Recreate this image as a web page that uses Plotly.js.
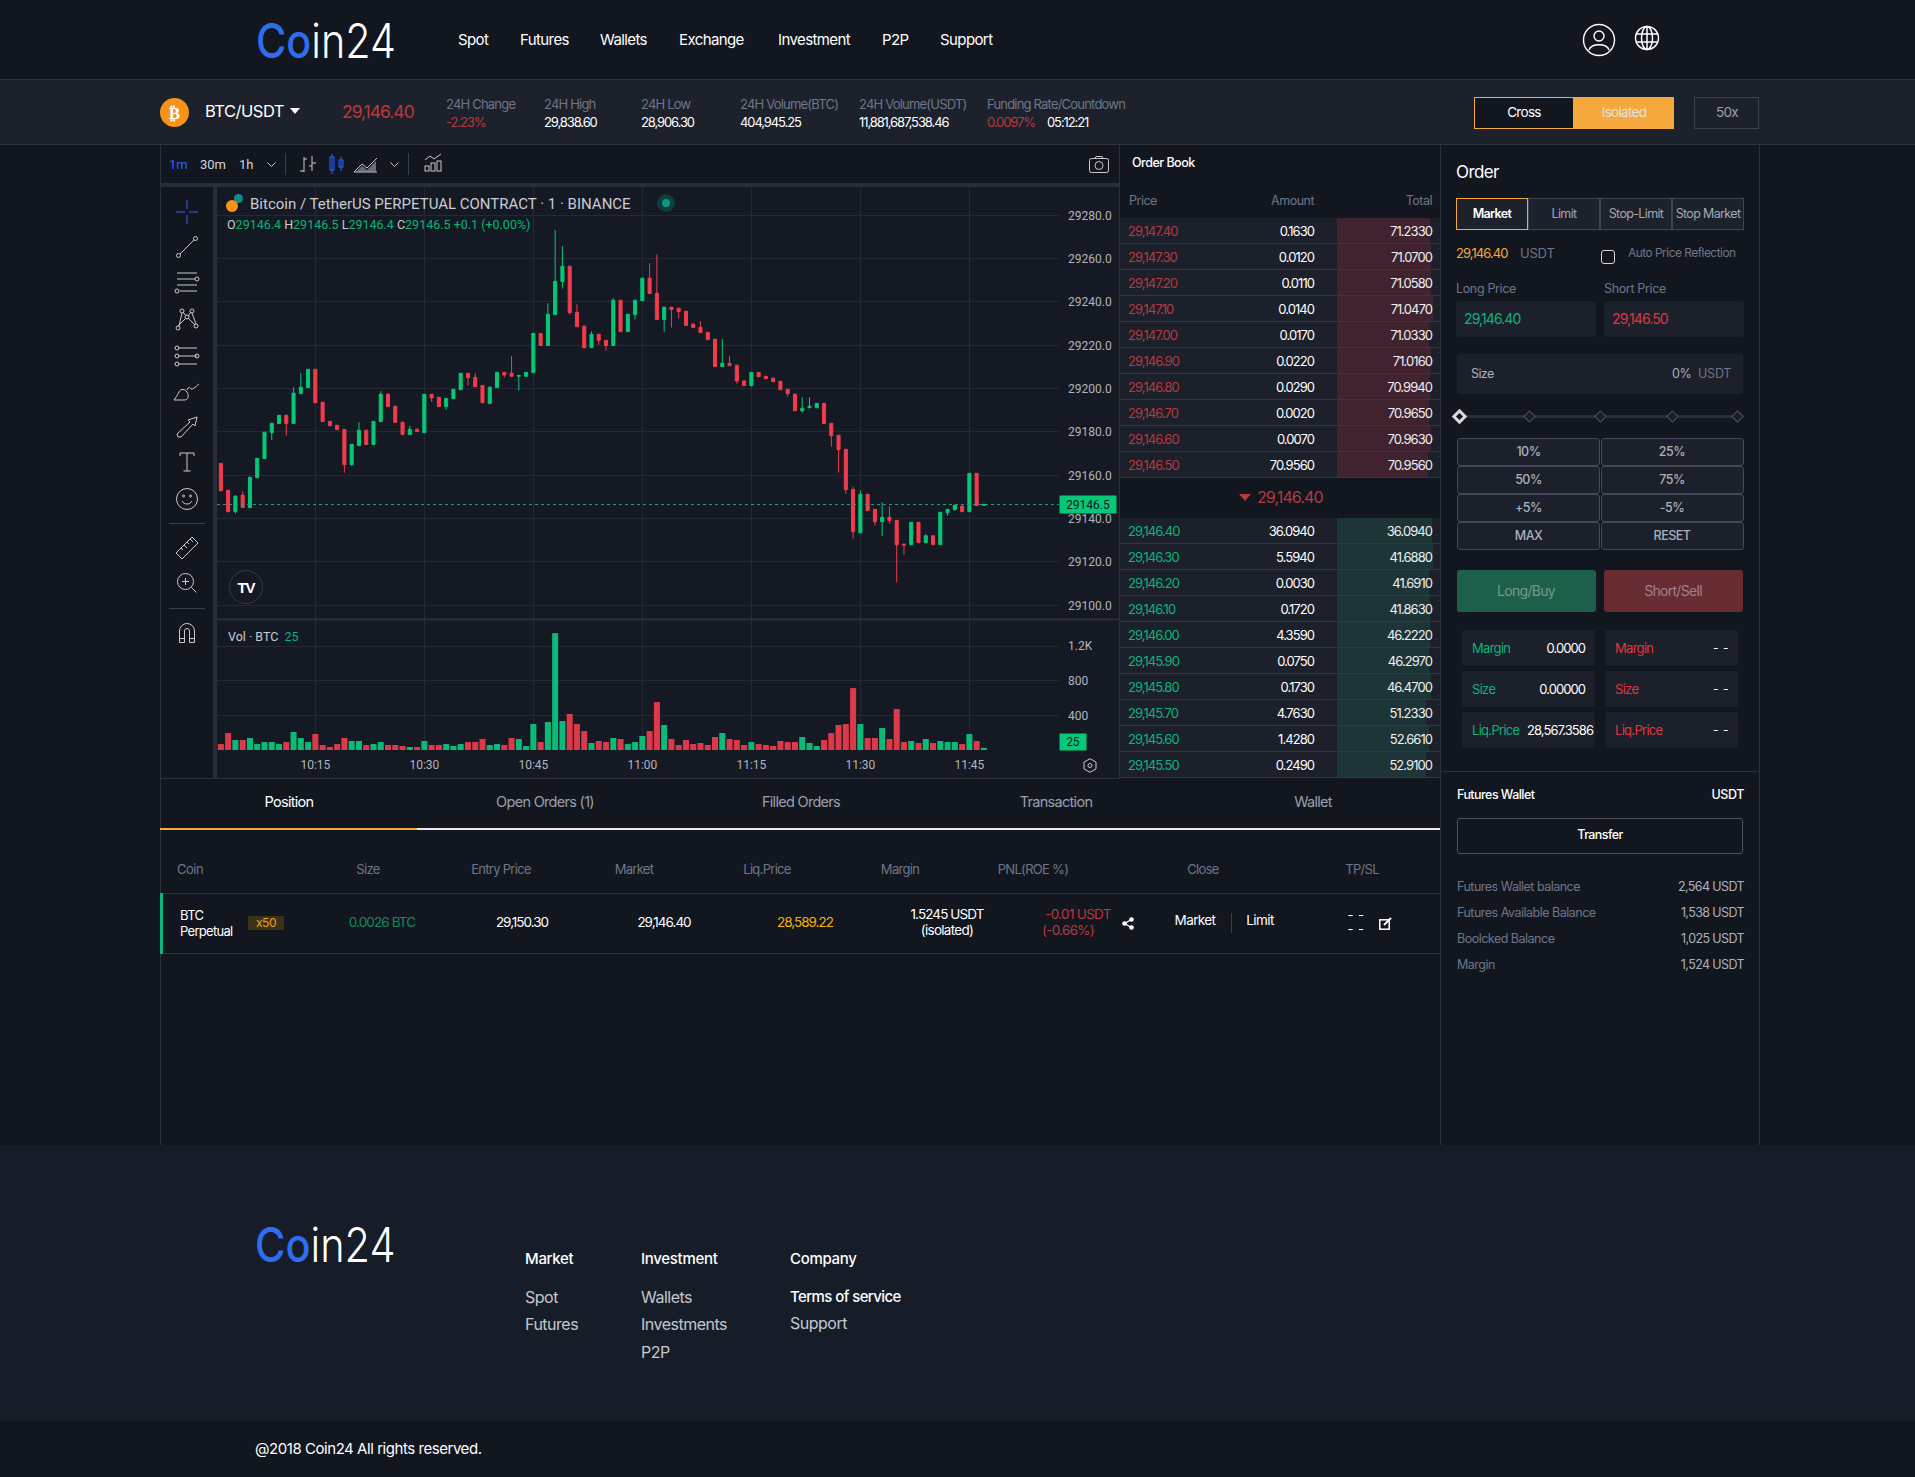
<!DOCTYPE html>
<html><head><meta charset="utf-8"><title>Coin24 BTC/USDT</title>
<script src="https://cdn.plot.ly/plotly-3.0.1.min.js"></script>
<style>
html,body{margin:0;padding:0;background:#12161f}
#root{position:relative;width:1915px;height:1477px;overflow:hidden;background:#12161f;font-family:Inter,"Noto Sans",sans-serif}
.b{position:absolute;box-sizing:border-box}
.t{position:absolute;white-space:nowrap;line-height:1;letter-spacing:-.7px}
svg.i{position:absolute;overflow:visible}
</style></head><body><div id="root"></div>
<script>
// ---------- candles (1 minute) ----------
const times=["10:02","10:03","10:04","10:05","10:06","10:07","10:08","10:09","10:10","10:11",
"10:12","10:13","10:14","10:15","10:16","10:17","10:18","10:19","10:20","10:21",
"10:22","10:23","10:24","10:25","10:26","10:27","10:28","10:29","10:30","10:31",
"10:32","10:33","10:34","10:35","10:36","10:37","10:38","10:39","10:40","10:41",
"10:42","10:43","10:44","10:45","10:46","10:47","10:48","10:49","10:50","10:51",
"10:52","10:53","10:54","10:55","10:56","10:57","10:58","10:59","11:00","11:01",
"11:02","11:03","11:04","11:05","11:06","11:07","11:08","11:09","11:10","11:11",
"11:12","11:13","11:14","11:15","11:16","11:17","11:18","11:19","11:20","11:21",
"11:22","11:23","11:24","11:25","11:26","11:27","11:28","11:29","11:30","11:31",
"11:32","11:33","11:34","11:35","11:36","11:37","11:38","11:39","11:40","11:41",
"11:42","11:43","11:44","11:45","11:46","11:47"];
const openP=[29165.5,29153.1,29143.2,29150.8,29145.1,29158.9,29167.7,29179.7,29183.9,29187.7,
29183.9,29197.7,29200.5,29208.9,29193.7,29184.9,29183.1,29181.2,29164.9,29173.7,
29180.8,29174.2,29184.8,29197.4,29191.9,29184.5,29178.8,29181.2,29179.7,29197.4,
29196.0,29191.7,29195.4,29199.5,29207.1,29205.2,29201.5,29193.1,29200.5,29207.5,
29207.1,29205.7,29205.7,29207.4,29225.5,29219.9,29234.2,29249.4,29256.5,29235.2,
29228.8,29218.9,29225.1,29222.3,29219.9,29240.8,29226.3,29234.2,29240.6,29251.0,
29244.0,29231.9,29237.6,29237.1,29235.7,29229.7,29228.3,29226.0,29222.8,29210.2,
29211.7,29210.8,29203.5,29201.4,29207.5,29205.7,29204.8,29203.4,29199.7,29197.4,
29189.8,29191.2,29191.2,29193.2,29184.0,29178.5,29172.0,29153.5,29133.5,29151.2,
29144.3,29138.6,29140.6,29139.2,29128.3,29128.0,29138.3,29128.9,29132.1,29128.0,
29142.7,29144.2,29145.7,29143.2,29160.9,29146.1];
const closeP=[29152.9,29143.2,29150.3,29145.1,29159.1,29167.8,29179.9,29184.0,29187.7,29183.9,
29197.9,29200.6,29208.9,29193.5,29184.8,29182.9,29181.1,29164.9,29174.3,29180.8,
29174.2,29184.9,29197.4,29191.7,29184.5,29178.8,29181.2,29180.2,29197.4,29195.7,
29191.7,29195.5,29199.7,29207.1,29205.1,29200.9,29193.5,29200.6,29207.5,29206.3,
29205.7,29206.0,29207.5,29225.5,29219.9,29234.3,29249.5,29256.5,29235.1,29228.6,
29218.9,29225.1,29222.3,29219.9,29240.8,29226.3,29234.3,29240.8,29251.0,29243.9,
29231.9,29237.6,29236.5,29235.6,29229.2,29228.2,29225.9,29222.6,29210.2,29211.7,
29210.6,29203.5,29201.4,29207.5,29205.5,29204.6,29203.2,29199.5,29197.7,29189.8,
29190.9,29191.9,29193.2,29183.9,29178.3,29171.8,29153.4,29134.0,29151.2,29143.7,
29138.6,29140.6,29139.1,29128.0,29127.8,29138.3,29128.9,29132.1,29128.0,29142.9,
29144.3,29146.2,29143.2,29160.9,29146.0,29146.6];
const highP=[29165.5,29153.1,29150.9,29152.6,29159.1,29167.8,29179.9,29184.0,29187.7,29187.7,
29200.6,29207.1,29208.9,29208.9,29193.7,29184.9,29183.1,29181.2,29174.3,29184.5,
29180.8,29184.9,29198.8,29198.0,29191.9,29184.5,29182.8,29181.7,29197.4,29197.4,
29196.0,29195.5,29199.7,29207.1,29207.1,29207.1,29201.5,29201.1,29207.5,29207.5,
29215.1,29206.3,29207.5,29225.5,29225.5,29239.4,29273.1,29265.7,29256.5,29238.9,
29229.2,29226.5,29225.1,29222.3,29241.7,29240.8,29234.3,29240.8,29251.0,29257.9,
29262.0,29237.6,29237.6,29237.1,29235.7,29230.3,29231.1,29226.0,29222.8,29222.8,
29215.1,29210.8,29204.0,29207.5,29207.5,29205.7,29205.2,29203.4,29199.7,29197.9,
29196.0,29196.0,29193.2,29193.2,29184.0,29178.5,29172.0,29154.8,29153.1,29151.2,
29144.3,29147.5,29145.7,29139.2,29128.3,29138.3,29138.3,29132.8,29132.1,29142.9,
29144.3,29146.2,29146.5,29160.9,29160.9,29146.6];
const lowP=[29152.9,29143.2,29142.3,29145.1,29145.1,29158.9,29167.7,29176.3,29183.9,29178.3,
29183.9,29197.7,29200.5,29193.5,29184.8,29182.9,29181.1,29161.2,29164.5,29173.7,
29174.2,29174.2,29184.8,29191.7,29184.5,29178.8,29178.8,29180.2,29179.7,29193.9,
29191.7,29190.2,29195.4,29199.5,29201.4,29200.9,29193.5,29193.1,29200.5,29205.1,
29205.7,29199.1,29205.7,29207.4,29219.9,29219.9,29234.2,29246.2,29234.2,29228.6,
29218.5,29218.9,29220.2,29217.5,29219.9,29226.3,29226.3,29231.9,29240.6,29243.9,
29231.9,29226.3,29228.2,29232.3,29228.9,29228.2,29225.9,29222.6,29210.2,29210.2,
29210.6,29202.3,29201.4,29200.9,29205.5,29204.6,29203.2,29199.5,29196.3,29189.8,
29188.9,29191.2,29191.2,29183.9,29173.2,29161.2,29151.5,29130.8,29133.5,29143.7,
29136.8,29132.1,29137.7,29110.5,29123.4,29128.0,29128.9,29128.9,29128.0,29128.0,
29141.4,29143.7,29143.2,29143.2,29146.0,29146.1];
const volume=[69,196,116,116,139,69,92,92,69,92,
208,139,92,185,58,35,69,139,104,104,
58,69,92,58,58,46,35,35,104,58,
58,69,46,69,92,92,127,58,69,58,
139,127,46,300,92,323,1351,335,416,300,
219,81,104,92,139,127,69,92,162,219,
554,289,127,58,116,69,81,58,150,196,
127,116,58,92,69,58,46,104,92,92,
150,81,46,116,196,289,300,716,300,139,
139,254,127,474,92,104,81,127,81,104,
92,92,69,185,104,25];
const priceTicks=[29100,29120,29140,29160,29180,29200,29220,29240,29260,29280];
const volTicks=[400,800,1200];
const volTickText=["400","800","1.2K"];
const lastPrice=29146.5, lastVol=25;
// ---------- order book ----------
const askPrice=["29,147.40","29,147.30","29,147.20","29,147.10","29,147.00","29,146.90","29,146.80","29,146.70","29,146.60","29,146.50"];
const askAmount=["0.1630","0.0120","0.0110","0.0140","0.0170","0.0220","0.0290","0.0020","0.0070","70.9560"];
const askTotal=["71.2330","71.0700","71.0580","71.0470","71.0330","71.0160","70.9940","70.9650","70.9630","70.9560"];
const askDepth=[90.3,91.3,91.6,92.9,89,91.6,90.3,89,91.3,88.7];
const bidPrice=["29,146.40","29,146.30","29,146.20","29,146.10","29,146.00","29,145.90","29,145.80","29,145.70","29,145.60","29,145.50"];
const bidAmount=["36.0940","5.5940","0.0030","0.1720","4.3590","0.0750","0.1730","4.7630","1.4280","0.2490"];
const bidTotal=["36.0940","41.6880","41.6910","41.8630","46.2220","46.2970","46.4700","51.2330","52.6610","52.9100"];
const bidDepth=[91.9,92.9,89.3,90.3,90.3,89.6,91,86.4,89.3,86.4];
// ---------- page text ----------
const navItems=["Spot","Futures","Wallets","Exchange","Investment","P2P","Support"];
const tabItems=["Position","Open Orders (1)","Filled Orders","Transaction","Wallet"];
const tableHead=["Size","Entry Price","Market","Liq.Price","Margin","PNL(ROE %)","Close","TP/SL"];
const pctButtons=["10%","25%","50%","75%","+5%","-5%","MAX","RESET"];

const root=document.getElementById('root');
const GREY='#6f7688',WH='#ffffff',RED='#b8393f',GRN='#0bb47a',ORG='#f5a83c',LINE='#2c313c',ROW='#1b202a';
function box(x,y,w,h,st){const d=document.createElement('div');d.className='b';d.style.cssText=`left:${x}px;top:${y}px;width:${w}px;height:${h}px;${st||''}`;root.appendChild(d);return d}
function t(x,y,s,o){o=o||{};const d=document.createElement('div');d.className='t';d.textContent=s;
 const tx=o.a==='c'?'-50%':o.a==='r'?'-100%':'0';
 d.style.cssText=`left:${x}px;top:${y}px;transform:translate(${tx},-50%);font-size:${o.s||13}px;color:${o.c||WH};font-weight:${o.w||400};`+(o.ls!==undefined?`letter-spacing:${o.ls}px;`:'')+(o.f?`font-family:${o.f};`:'');
 root.appendChild(d);return d}
function icon(x,y,w,h,inner,st){const n='http://www.w3.org/2000/svg';const s=document.createElementNS(n,'svg');s.setAttribute('class','i');s.setAttribute('width',w);s.setAttribute('height',h);s.setAttribute('viewBox',`0 0 ${w} ${h}`);s.style.left=(x-w/2)+'px';s.style.top=(y-h/2)+'px';s.innerHTML=`<g fill="none" stroke="${st||'#c7cad1'}" stroke-width="1">${inner}</g>`;root.appendChild(s);return s}
function logo(x,base,w){const n='http://www.w3.org/2000/svg';const s=document.createElementNS(n,'svg');s.setAttribute('class','i');s.setAttribute('width',w+10);s.setAttribute('height',60);s.style.left=x+'px';s.style.top=(base-50)+'px';
 s.innerHTML=`<text x="0" y="50" font-family="Inter" font-size="48" font-weight="300" fill="#fff" textLength="${w}" lengthAdjust="spacingAndGlyphs"><tspan fill="#2f6df0" font-weight="500">Co</tspan>in24</text>`;root.appendChild(s)}

// ---------- page frame ----------
box(0,79,1915,1,'background:#2e333e');
box(0,80,1915,64,'background:#1c212b');
box(0,144,1915,1,'background:#2e333e');
box(160,145,1,1000,`background:${LINE}`);
box(1440,145,1,1000,`background:${LINE}`);
box(1759,145,1,1000,`background:${LINE}`);
box(0,1145,1915,276,'background:#171d28');
box(0,1421,1915,56,'background:#12161f');

// header
logo(256,58,140);
[458,520,600,679,778,882,940].forEach((x,i)=>t(x,39,navItems[i],{s:15,ls:-.6}));
icon(1599,40,34,34,'<circle cx="17" cy="17" r="15.5" stroke-width="1.4"/><circle cx="17" cy="13" r="5" stroke-width="1.4"/><path d="M7 27c2-7 18-7 20 0" stroke-width="1.4"/>','#fff');
icon(1647,38,26,26,'<circle cx="13" cy="13" r="11.5" stroke-width="1.5"/><ellipse cx="13" cy="13" rx="5.5" ry="11.5" stroke-width="1.5"/><path d="M2 9h22M2 17h22M13 1v24" stroke-width="1.5"/>','#fff');

// ticker bar
box(160,98,29,29,'background:#f7931a;border-radius:50%');
t(174.5,113,'₿',{a:'c',s:17,w:700,ls:0,f:'"DejaVu Sans"'});
t(205,111,'BTC/USDT',{s:16.5,ls:-.5});
icon(295,111,10,6,'<path d="M0 0h10L5 6z" fill="#fff" stroke="none"/>');
t(342,112,'29,146.40',{s:17.5,c:RED,ls:-1});
const hdr=[[446,'24H Change','-2.23%',RED],[544,'24H High','29,838.60',WH],[641,'24H Low','28,906.30',WH],[740,'24H Volume(BTC)','404,945.25',WH],[859,'24H Volume(USDT)','11,881,687,538.46',WH],[987,'Funding Rate/Countdown','0.0097%',RED]];
hdr.forEach(h=>{t(h[0],104,h[1],{s:13,c:GREY,ls:-.8});t(h[0],122,h[2],{s:13,c:h[3],ls:-1.1})});
t(1047,122,'05:12:21',{s:13,ls:-1.1});
box(1474,97,100,32,`background:#12161f;border:1.5px solid ${ORG}`);
t(1524,113,'Cross',{a:'c',s:13.5});
box(1574,97,100,32,`background:${ORG}`);
t(1624,113,'Isolated',{a:'c',s:13.5,c:'#dfe1e6'});
box(1694,97,65,32,'border:1px solid #3c414c;background:#1c212b');
t(1727,113,'50x',{a:'c',s:13.5,c:'#9aa0ad'});

// chart shell
box(160,183,960,4,'background:#2a2e39');
box(213,183,4,596,'background:#2a2e39');
const chartDiv=box(217,187,902,591,'');chartDiv.id='chart';
box(1119,145,1,634,`background:${LINE}`);
box(160,778,960,1,`background:${LINE}`);

// toolbar
const TF='Roboto,sans-serif';
t(169,164,'1m',{s:13,c:'#2962ff',ls:0,f:TF});t(200,164,'30m',{s:13,c:'#d1d4dc',ls:0,f:TF});t(239,164,'1h',{s:13,c:'#d1d4dc',ls:0,f:TF});
icon(271,164,9,5,'<path d="M.5.5l4 4 4-4"/>');
box(285,153,1,22,'background:#3a3e49');
icon(308,164,16,16,'<path d="M4 1v15M0 15h4M12 0v15M12 7h4M4 8h-0"/><path d="M4 3h3M12 10H9"/>');
icon(337,164,16,20,'<rect x="1" y="3" width="4" height="13"/><path d="M3 0v20M12 3v14"/><rect x="10" y="6" width="4" height="7"/>','#2962ff');
icon(366,164,24,18,'<path d="M0 17l8-8 5 4 10-10M0 17h23"/><path d="M2 17l6-6 5 4 9-9v11z" fill="#8e929c" stroke="none" opacity=".7"/>');
icon(394,164,9,5,'<path d="M.5.5l4 4 4-4"/>');
box(408,153,1,22,'background:#3a3e49');
icon(433,163,18,18,'<path d="M1 6l5-4 4 3 7-5"/><rect x="1" y="12" width="4" height="5"/><rect x="7" y="9" width="4" height="8"/><rect x="13" y="7" width="4" height="10"/>');
icon(1099,164,20,17,'<rect x=".5" y="2.5" width="19" height="14" rx="2"/><circle cx="10" cy="9.5" r="4"/><path d="M6 2.5l1-2h6l1 2"/>');

// drawing tools
icon(187,212,24,24,'<path d="M12 0v9M12 15v9M1 12h9M14 12h9"/>','#2962ff');
icon(187,247,22,22,'<circle cx="2.5" cy="19.5" r="2"/><circle cx="19.5" cy="2.5" r="2"/><path d="M4 18L18 4"/>');
icon(187,282,24,20,'<path d="M2 1h20M2 7h18M2 13h20M5 19h17"/><circle cx="22" cy="7" r="2"/><circle cx="2" cy="19" r="2"/>');
icon(187,319,24,22,'<circle cx="3" cy="20" r="2"/><circle cx="7" cy="3" r="2"/><circle cx="12" cy="9" r="2"/><circle cx="17" cy="3" r="2"/><circle cx="21" cy="18" r="2"/><path d="M4 18L7 5M8 4l3 4M13 8l3-4M17 5l4 11M3 18L11 10M13 10l7 7"/>');
icon(187,356,24,20,'<path d="M3 2h19M3 10h19M3 18h19" /><circle cx="2" cy="2" r="2"/><circle cx="2" cy="10" r="2"/><circle cx="2" cy="18" r="2"/><circle cx="22" cy="10" r="2"/>');
icon(187,392,26,18,'<path d="M0 17h10c5 0 5-5 3-8S7 5 5 9 2 14 0 17zM13 7c1-4 4-2 4-1s4-1 8-5"/>');
icon(187,427,22,22,'<path d="M2 21l-1-3L14 6l-2-2 9-3-2 9-2-2L5 21z"/>');
icon(187,462,16,20,'<path d="M1 4V1h14v3M8 1v18M4.5 19h7"/>');
icon(187,499,22,22,'<circle cx="11" cy="11" r="10.5"/><circle cx="7.5" cy="8" r="1"/><circle cx="14.5" cy="8" r="1"/><path d="M6 13c2 4 8 4 10 0"/>');
box(169,523,36,1,'background:#3a3e49');
icon(187,548,24,24,'<path d="M1 17L17 1l6 6L7 23zM6 12l2 2M9 9l3 3M12 6l2 2M15 3l3 3"/>');
icon(187,583,20,20,'<circle cx="8.5" cy="8.5" r="8"/><path d="M8.5 5v7M5 8.5h7M14.5 14.5l5 5"/>');
box(169,608,36,1,'background:#3a3e49');
icon(187,633,16,20,'<path d="M.5 19.5V8a7.5 7.5 0 0115 0v11.5h-5V8a2.5 2.5 0 00-5 0v11.5zM.5 15.5h5M10.5 15.5h5"/>');

// chart overlays
box(229,570,34,34,'border:1.3px solid #363a45;border-radius:50%');
t(246,587,'TV',{a:'c',s:15,w:800,ls:-1,f:'"Liberation Sans"'});
box(234,194,9,9,'background:#138a8a;border-radius:50%');
box(226,200,12,12,'background:#f7931a;border-radius:50%');
box(657,194,18,18,'background:#0c3e3c;border-radius:50%');
box(662,199,8,8,'background:#089981;border-radius:50%');
icon(1090,765,14,15,'<path d="M7 .7l6 3.4v6.8l-6 3.4-6-3.4V4.1z"/><circle cx="7" cy="7.5" r="2"/>');

// order book
t(1132,163,'Order Book',{s:12.5,ls:-.5,w:500});
t(1129,201,'Price',{s:12.5,c:GREY,ls:-.5});
t(1314,201,'Amount',{a:'r',s:12.5,c:GREY,ls:-.5});
t(1432,201,'Total',{a:'r',s:12.5,c:GREY,ls:-.5});
const askTop=218,bidTop=518,rowH=26;
box(1120,askTop,320,259,`background:${ROW}`);
box(1120,bidTop,320,259,`background:${ROW}`);
const depthDiv=box(1337,askTop,103,559,'');depthDiv.id='depth';
function bookRows(top,pr,am,to,col){pr.forEach((p,i)=>{const y=top+i*rowH;
 box(1120,y+25,320,1,'background:#333843');
 t(1128,y+13,p,{s:13,c:col,ls:-.95});t(1314,y+13,am[i],{a:'r',s:13,ls:-.95});t(1432,y+13,to[i],{a:'r',s:13,ls:-.95,c:'#eef0f3'});});}
bookRows(askTop,askPrice,askAmount,askTotal,RED);
bookRows(bidTop,bidPrice,bidAmount,bidTotal,GRN);
icon(1245,497,12,7,'<path d="M0 0h12L6 7z" fill="'+RED+'" stroke="none"/>');
t(1257,497,'29,146.40',{s:16,c:RED,ls:-.9});

// position tabs
[289,545,801,1056,1313].forEach((x,i)=>t(x,802,tabItems[i],{a:'c',s:14.5,ls:-.7,c:i?'#9aa0ad':WH}));
box(160,828,257,1.5,`background:${ORG}`);box(417,828,1023,1.5,'background:#e8e9ec');
t(177,869,'Coin',{s:13,c:GREY,ls:-.5});
[368,501,634,767,900,1033,1203,1362].forEach((x,i)=>t(x,869,tableHead[i],{a:'c',s:13,c:GREY,ls:-.7}));
box(160,893,1280,1,`background:${LINE}`);box(160,953,1280,1,`background:${LINE}`);
box(160,893,3,61,`background:${GRN}`);
t(180,915,'BTC',{s:13,ls:-.6});t(180,931,'Perpetual',{s:13,ls:-.7});
box(248,916,36,14,'background:#3a3218');t(266,923,'x50',{a:'c',s:12,c:'#e8a317',ls:-.5});
t(382,923,'0.0026 BTC',{a:'c',s:13.5,c:'#128a5e',ls:-.9});
t(522,923,'29,150.30',{a:'c',s:13.5,ls:-1});t(664,923,'29,146.40',{a:'c',s:13.5,ls:-1});
t(805,923,'28,589.22',{a:'c',s:13.5,c:'#f5b400',ls:-1});
t(947,915,'1.5245 USDT',{a:'c',s:13.5,ls:-.9});t(947,931,'(isolated)',{a:'c',s:13.5,ls:-.7});
t(1078,915,'-0.01 USDT',{a:'c',s:13.5,c:RED,ls:-.7});t(1043+25,931,'(-0.66%)',{a:'c',s:13.5,c:RED,ls:-.7});
icon(1128,923,12,13,'<circle cx="9.5" cy="2.5" r="2.3" fill="#fff" stroke="none"/><circle cx="2.5" cy="6.5" r="2.3" fill="#fff" stroke="none"/><circle cx="9.5" cy="10.5" r="2.3" fill="#fff" stroke="none"/><path d="M9.5 2.5l-7 4 7 4" stroke="#fff" stroke-width="1.3"/>');
t(1195,921,'Market',{a:'c',s:13.5,ls:-.6});box(1231,913,1,20,'background:#3a3e49');t(1260,921,'Limit',{a:'c',s:13.5,ls:-.6});
t(1356,915,'- -',{a:'c',s:13,ls:.5});t(1356,929,'- -',{a:'c',s:13,ls:.5});
icon(1385,923,13,13,'<rect x=".8" y="2.8" width="9.4" height="9.4" stroke-width="1.5" stroke="#fff"/><path d="M5 8l7-7" stroke-width="2" stroke="#fff"/>');

// order panel
t(1456,172,'Order',{s:17,ls:-.6});
[['Market',1456],['Limit',1528],['Stop-Limit',1600],['Stop Market',1672]].forEach((b,i)=>{
 box(b[1],198,72,32,`background:#1c212b;border:1px solid ${i?'#3f4450':ORG}`);
 t(b[1]+36,214,b[0],{a:'c',s:12.5,c:i?'#a3a8b4':WH,ls:-.65,w:i?400:600});});
t(1456,253,'29,146.40',{s:13,c:ORG,ls:-.95});t(1520,253,'USDT',{s:13,c:GREY,ls:-.2});
box(1601,250,14,14,'border:1.3px solid #d5d7dc;border-radius:3px');
t(1628,253,'Auto Price Reflection',{s:12,c:GREY,ls:-.55});
t(1456,289,'Long Price',{s:12.5,c:GREY,ls:-.35});t(1604,289,'Short Price',{s:12.5,c:GREY,ls:-.35});
box(1456,301,140,36,`background:${ROW};border-radius:3px`);box(1604,301,140,36,`background:${ROW};border-radius:3px`);
t(1464,319,'29,146.40',{s:14,c:GRN,ls:-.9});t(1612,319,'29,146.50',{s:14,c:'#e0353f',ls:-.9});
box(1457,354,286,40,`background:${ROW};border-radius:3px`);
t(1471,374,'Size',{s:12.5,c:'#a9b0c0',ls:-.6});t(1672,374,'0%',{s:12.5,c:'#a9b0c0',ls:-.5});t(1698,374,'USDT',{s:12.5,c:GREY,ls:-.2});
box(1459,414.5,278,3,'background:#2a2e39');
[[1529,0],[1600,0],[1672,0],[1737,0],[1459,1]].forEach(d=>{const s=d[1]?11:9;
 box(d[0]-s/2,416-s/2,s,s,`transform:rotate(45deg);background:${d[1]?'#12161f':'#1a1e28'};border:${d[1]?'3px solid #d8dae0':'1.5px solid #4e5360'}`)});
pctButtons.forEach((p,i)=>{const x=i%2?1600.5:1457,y=438+Math.floor(i/2)*27.9;
 box(x,y,143,27.9,`background:${ROW};border:1px solid #43485a;border-radius:3px`);
 t(x+71.5,y+14,p,{a:'c',s:12.5,c:'#aab0bc',ls:-.5,w:500});});
box(1457,570,139,41.5,'background:#1c5f4b;border-radius:3px');t(1526,591,'Long/Buy',{a:'c',s:14,c:'#739c8c',ls:-.7});
box(1604,570,139,41.5,'background:#682c33;border-radius:3px');t(1673,591,'Short/Sell',{a:'c',s:14,c:'#a18285',ls:-.7});
[[630,'Margin','0.0000'],[671,'Size','0.00000'],[712,'Liq.Price','28,567.3586']].forEach((r,i)=>{
 box(1462,r[0],133,35.5,`background:${ROW};border-radius:3px`);box(1605,r[0],133,35.5,`background:${ROW};border-radius:3px`);
 t(1472,r[0]+18,r[1],{s:13,c:GRN,ls:-.7});t(i==2?1593:1585,r[0]+18,r[2],{a:'r',s:13,ls:-.95});
 t(1615,r[0]+18,r[1],{s:13,c:'#e0353f',ls:-.7});t(1729,r[0]+18,'- -',{a:'r',s:12,ls:.5});});
box(1441,771,318,1,`background:${LINE}`);
t(1457,795,'Futures Wallet',{s:12.5,ls:-.55,w:500});t(1744,795,'USDT',{a:'r',s:12.5,ls:-.4,w:500});
box(1457,818,286,36,'border:1px solid #4b505c;border-radius:3px');t(1600,835,'Transfer',{a:'c',s:12.5,ls:-.6,w:500});
[['Futures Wallet balance','2,564 USDT',887],['Futures Available Balance','1,538 USDT',913],['Boolcked Balance','1,025 USDT',939],['Margin','1,524 USDT',965]].forEach(r=>{
 t(1457,r[2],r[0],{s:12.5,c:GREY,ls:-.5});t(1744,r[2],r[1],{a:'r',s:12.5,c:'#aeb2bb',ls:-.6});});

// footer
logo(254.6,1262,140.5);
t(525,1258,'Market',{s:15,ls:-.3,w:500});t(641,1258,'Investment',{s:15,ls:-.3,w:500});t(790,1258,'Company',{s:15,ls:-.3,w:500});
t(525,1297,'Spot',{s:16,c:'#c5c8ce',ls:-.5});t(525,1324,'Futures',{s:16,c:'#c5c8ce',ls:-.5});
t(641,1297,'Wallets',{s:16,c:'#c5c8ce',ls:-.5});t(641,1324,'Investments',{s:16,c:'#c5c8ce',ls:-.5});t(641,1352,'P2P',{s:16,c:'#c5c8ce',ls:-.5});
t(790,1296,'Terms of service',{s:15,ls:-.6,w:500});t(790,1323,'Support',{s:16,c:'#c5c8ce',ls:-.5});
t(255,1448,'@2018 Coin24 All rights reserved.',{s:15,ls:-.45});

// ---------- Plotly: candles + volume ----------
const DAY='2022-06-15 ';
const xs=times.map(s=>DAY+s);
const UP='#05c878',DOWN='#f23c4b',VUP='#0bb978',VDOWN='#dc3a4a';
const W=902,H=591;
const px=x=>(x-217)/W, py=y=>1-(y-187)/H;
const chartFont='Roboto,sans-serif', axisCol='#b2b5be';
const traces=[{type:'candlestick',x:xs,open:openP,high:highP,low:lowP,close:closeP,xaxis:'x',yaxis:'y',
  whiskerwidth:0,increasing:{line:{color:UP,width:1},fillcolor:UP},decreasing:{line:{color:DOWN,width:1},fillcolor:DOWN},hoverinfo:'skip'},
 {type:'bar',x:xs,y:volume,xaxis:'x',yaxis:'y2',marker:{color:closeP.map((c,i)=>c>=openP[i]?VUP:VDOWN),line:{width:0}},hoverinfo:'skip'}];
const gridC='#252934';
const layout={width:W,height:H,margin:{l:0,r:0,t:0,b:0},paper_bgcolor:'#151924',plot_bgcolor:'#151924',showlegend:false,
 boxgap:.4,bargap:.17,dragmode:false,font:{family:chartFont,size:12,color:axisCol},
 xaxis:{type:'date',domain:[0,px(1059)],range:[DAY+'10:01:28',DAY+'11:57:20'],anchor:'y2',rangeslider:{visible:false},
  tickmode:'linear',tick0:DAY+'10:00',dtick:900000,tickformat:'%H:%M',showgrid:true,gridcolor:gridC,gridwidth:1,zeroline:false,showline:false,ticks:'',ticklabelstandoff:6,tickfont:{family:chartFont,size:12,color:axisCol}},
 yaxis:{domain:[py(619),1],range:[29093.68,29293.06],side:'right',anchor:'x',tickmode:'array',tickvals:priceTicks,ticktext:priceTicks.map(v=>v.toFixed(1)),showgrid:true,gridcolor:gridC,zeroline:false,showline:false,ticks:'',ticklabelstandoff:8,tickfont:{family:chartFont,size:12,color:axisCol}},
 yaxis2:{domain:[py(750),py(620)],range:[0,1503],side:'right',anchor:'x',tickmode:'array',tickvals:volTicks,ticktext:volTickText,showgrid:true,gridcolor:gridC,zeroline:false,showline:false,ticks:'',ticklabelstandoff:8,tickfont:{family:chartFont,size:12,color:axisCol}},
 shapes:[
  {type:'line',xref:'x',yref:'y',x0:DAY+'10:01:28',x1:DAY+'11:57:20',y0:lastPrice,y1:lastPrice,line:{color:'#12a58c',width:1,dash:'dot'}},
  {type:'line',xref:'paper',yref:'paper',x0:0,x1:1,y0:py(619.5),y1:py(619.5),line:{color:'#2a2e39',width:2}}],
 annotations:[
  {xref:'paper',yref:'paper',x:px(248),y:py(204),xanchor:'left',yanchor:'middle',showarrow:false,align:'left',text:'Bitcoin / TetherUS PERPETUAL CONTRACT · 1 · BINANCE',font:{family:chartFont,size:15,color:'#c9ccd4'}},
  {xref:'paper',yref:'paper',x:px(225),y:py(224),xanchor:'left',yanchor:'middle',showarrow:false,align:'left',
   text:'<span style="color:#c9ccd4">O</span>29146.4 <span style="color:#c9ccd4">H</span>29146.5 <span style="color:#c9ccd4">L</span>29146.4 <span style="color:#c9ccd4">C</span>29146.5 +0.1 (+0.00%)',font:{family:chartFont,size:12.5,color:'#05b574'}},
  {xref:'paper',yref:'paper',x:px(226),y:py(636),xanchor:'left',yanchor:'middle',showarrow:false,align:'left',
   text:'<span style="color:#c9ccd4">Vol · BTC</span>  25',font:{family:chartFont,size:12.5,color:'#05b574'}},
  {xref:'paper',yref:'y',x:px(1059),y:lastPrice,xanchor:'left',yanchor:'middle',showarrow:false,width:56,height:17,align:'center',bgcolor:'#05c878',borderpad:0,text:lastPrice.toFixed(1),font:{family:chartFont,size:12,color:'#131722'}},
  {xref:'paper',yref:'paper',x:px(1059),y:py(742),xanchor:'left',yanchor:'middle',showarrow:false,width:26,height:16,align:'center',bgcolor:'#05c878',borderpad:0,text:String(lastVol),font:{family:chartFont,size:12,color:'#131722'}}]};
Plotly.newPlot('chart',traces,layout,{staticPlot:true,displayModeBar:false});

// ---------- Plotly: order-book depth bars ----------
const depthLayout={width:103,height:559,margin:{l:0,r:0,t:0,b:0},paper_bgcolor:'rgba(0,0,0,0)',plot_bgcolor:'rgba(0,0,0,0)',showlegend:false,bargap:0,
 grid:{rows:2,columns:1},
 xaxis:{range:[0,100],visible:false,fixedrange:true,anchor:'y'},xaxis2:{range:[0,100],visible:false,fixedrange:true,anchor:'y2'},
 yaxis:{type:'category',domain:[300/559,1],categoryorder:'array',categoryarray:askPrice,autorange:'reversed',visible:false,anchor:'x'},
 yaxis2:{type:'category',domain:[0,259/559],categoryorder:'array',categoryarray:bidPrice,autorange:'reversed',visible:false,anchor:'x2'}};
Plotly.newPlot('depth',[
 {type:'bar',orientation:'h',y:askPrice,x:askDepth,xaxis:'x',yaxis:'y',marker:{color:'#41232f',line:{width:0}},hoverinfo:'skip'},
 {type:'bar',orientation:'h',y:bidPrice,x:bidDepth,xaxis:'x2',yaxis:'y2',marker:{color:'#1e3537',line:{width:0}},hoverinfo:'skip'}
],depthLayout,{staticPlot:true,displayModeBar:false});
</script></body></html>
